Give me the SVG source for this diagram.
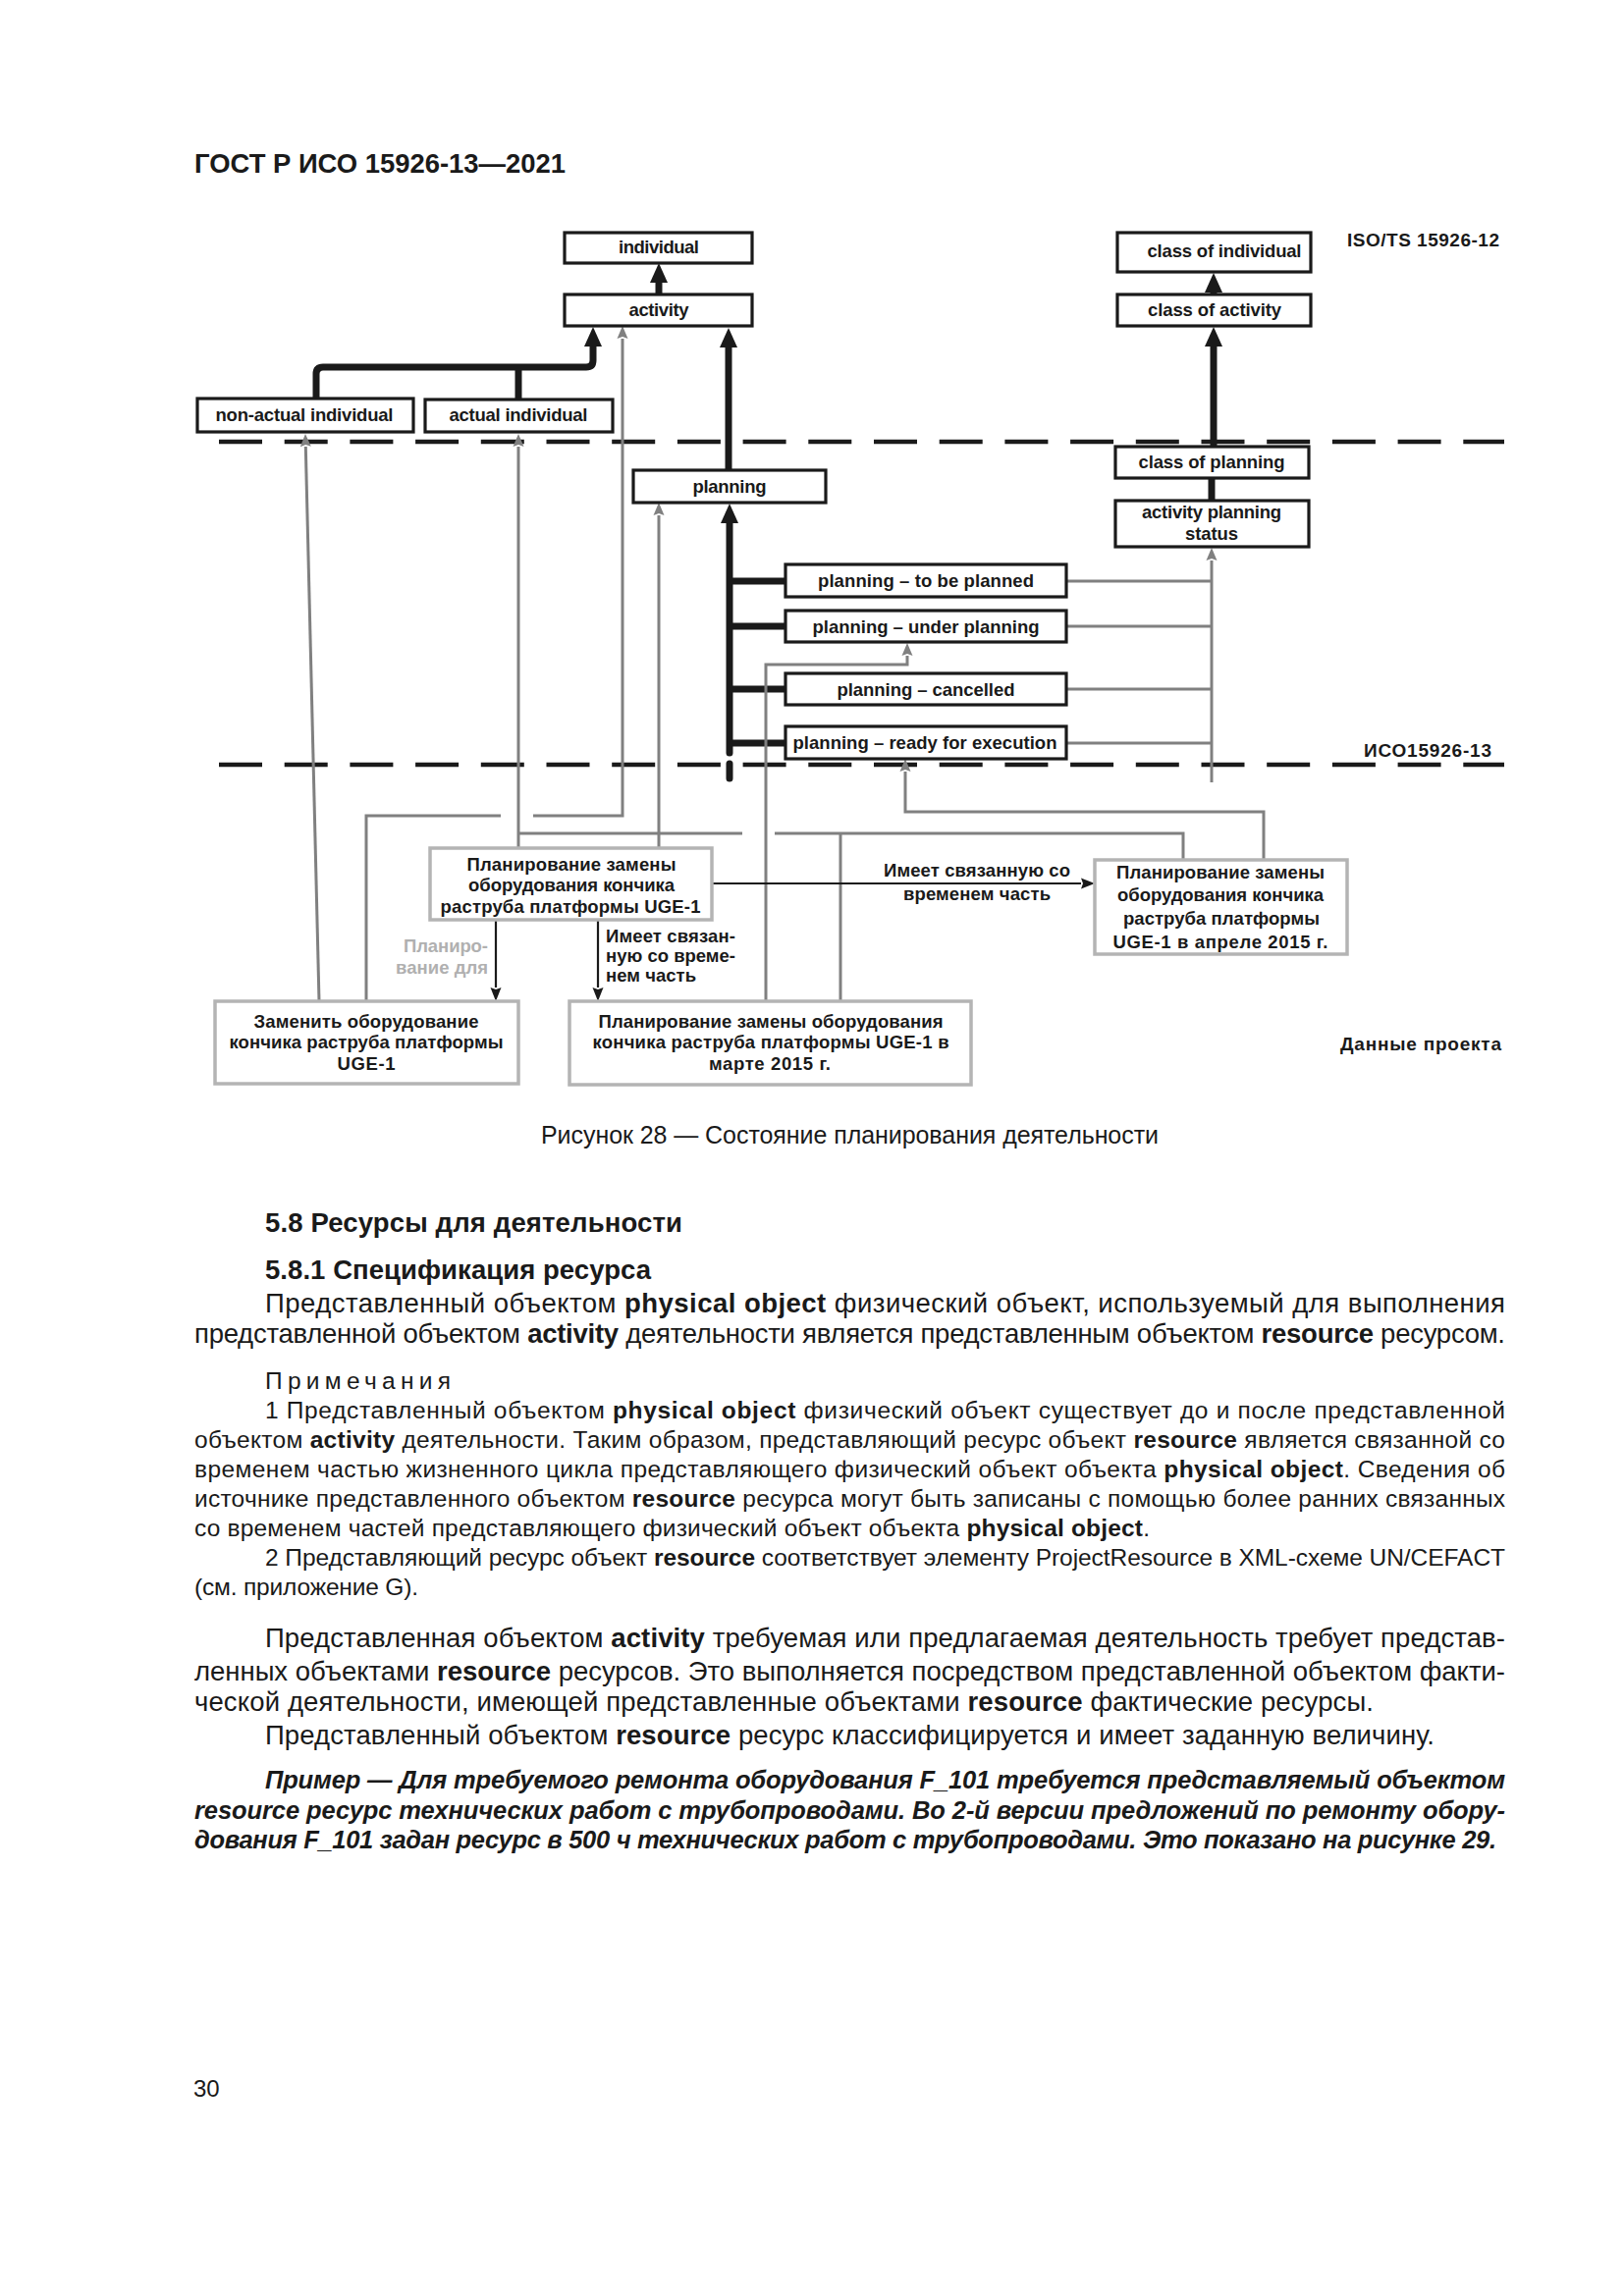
<svg xmlns="http://www.w3.org/2000/svg" width="1654" height="2339" viewBox="0 0 1654 2339">
<style>
text{font-family:"Liberation Sans",Arial,sans-serif;fill:#1a1a1a}
.d{font-size:18.5px;font-weight:bold;text-anchor:middle}
.lbl{font-size:19px;font-weight:bold}
.bx{fill:#fff;stroke:#1a1a1a;stroke-width:3.2}
.gb{fill:#fff;stroke:#b4b4b4;stroke-width:3.5}
.thick{fill:none;stroke:#1a1a1a;stroke-width:7}
.gray{fill:none;stroke:#808080;stroke-width:3}
.thin{fill:none;stroke:#1a1a1a;stroke-width:2.2}
.dash{fill:none;stroke:#1a1a1a;stroke-width:4.5;stroke-dasharray:44 22.7}
.body{font-size:27.5px}
.note{font-size:24.5px}
.b{font-weight:bold}
.ex{font-size:25.5px;font-weight:bold;font-style:italic}
</style>
<defs>
<marker id="ahT" markerUnits="userSpaceOnUse" markerWidth="24" markerHeight="24" viewBox="0 -12 24 24" refX="0" refY="0" orient="auto" overflow="visible"><path d="M0,-9 L20,0 L0,9 z" fill="#1a1a1a"/></marker>
<marker id="ahG" markerUnits="userSpaceOnUse" markerWidth="16" markerHeight="16" viewBox="0 -8 16 16" refX="0" refY="0" orient="auto" overflow="visible"><path d="M0,-5.5 L13,0 L0,5.5 L2,0 z" fill="#808080"/></marker>
<marker id="ahB" markerUnits="userSpaceOnUse" markerWidth="16" markerHeight="16" viewBox="0 -8 16 16" refX="0" refY="0" orient="auto" overflow="visible"><path d="M0,-5.5 L14,0 L0,5.5 L2,0 z" fill="#1a1a1a"/></marker>
</defs>
<rect width="1654" height="2339" fill="#fff"/>

<text x="198" y="176" font-size="27" font-weight="bold" textLength="378" lengthAdjust="spacingAndGlyphs">ГОСТ Р ИСО 15926-13—2021</text>

<g id="connectors">
<line class="dash" x1="223" y1="450" x2="1532" y2="450"/>
<line class="dash" x1="223" y1="779" x2="1532" y2="779"/>
<path class="thick" d="M671,300 V288" marker-end="url(#ahT)"/>
<path class="thick" d="M322,406 V381 Q322,374 329,374 H597 Q604,374 604,367 V353" marker-end="url(#ahT)"/>
<path class="thick" d="M528,407 V374"/>
<path class="thick" d="M742,479 V354" marker-end="url(#ahT)"/>
<path class="thick" d="M1236,455 V353" marker-end="url(#ahT)"/>
<path class="thick" d="M1236,300 V298" marker-end="url(#ahT)"/>
<path class="thick" d="M1234,487 V510"/>
<path class="thick" d="M743,767 V533" stroke-linecap="round" marker-end="url(#ahT)"/>
<path class="thick" d="M743,778 V793" stroke-linecap="round"/>
<path class="thick" stroke-width="8" d="M743,592 H800 M743,638 H800 M743,702 H800 M743,757 H800"/>
<path class="gray" d="M325,1020 L311.3,455" marker-end="url(#ahG)"/>
<path class="gray" d="M528,865 V455" marker-end="url(#ahG)"/>
<path class="gray" d="M1205,876 V849 H789 M756,849 H528"/>
<path class="gray" d="M856,1020 V849"/>
<path class="gray" d="M373,1020 V831 H510"/>
<path class="gray" d="M543,831 H634 V345" marker-end="url(#ahG)"/>
<path class="gray" d="M671,865 V525" marker-end="url(#ahG)"/>
<path class="gray" d="M780,1020 V677 H924 V668" marker-end="url(#ahG)"/>
<path class="gray" d="M1287,876 V827 H922 V786" marker-end="url(#ahG)"/>
<path class="gray" d="M1234,797 V571" marker-end="url(#ahG)"/>
<path class="gray" d="M1086,592 H1234 M1086,638 H1234 M1086,702 H1234 M1086,757 H1234"/>
<path class="thin" d="M725,900 H1101" marker-end="url(#ahB)"/>
<path class="thin" d="M505,937 V1006" marker-end="url(#ahB)"/>
<path class="thin" d="M609,937 V1006" marker-end="url(#ahB)"/>
<text class="d" x="995" y="893" textLength="190">Имеет связанную со</text>
<text class="d" x="995" y="917" textLength="150">временем часть</text>
<text class="d" x="497" y="970" style="text-anchor:end;fill:#b0b0b0" textLength="86">Планиро-</text>
<text class="d" x="497" y="992" style="text-anchor:end;fill:#b0b0b0" textLength="94">вание для</text>
<text class="d" x="617" y="960" style="text-anchor:start" textLength="132">Имеет связан-</text>
<text class="d" x="617" y="980" style="text-anchor:start" textLength="132">ную со време-</text>
<text class="d" x="617" y="1000" style="text-anchor:start" textLength="92">нем часть</text>
</g>

<g id="n-individual"><rect class="bx" x="575" y="237" width="191" height="31"/><text class="d" x="671" y="258" textLength="82">individual</text></g>
<g id="n-activity"><rect class="bx" x="575" y="300" width="191" height="32"/><text class="d" x="671" y="322" textLength="61">activity</text></g>
<g id="n-nonactual"><rect class="bx" x="201" y="406" width="220" height="34"/><text class="d" x="310" y="429" textLength="181">non-actual individual</text></g>
<g id="n-actual"><rect class="bx" x="433" y="407" width="191" height="33"/><text class="d" x="528" y="429" textLength="141">actual individual</text></g>
<g id="n-class-individual"><rect class="bx" x="1138" y="237" width="197" height="40"/><text class="d" x="1247" y="262" textLength="157">class of individual</text></g>
<g id="n-class-activity"><rect class="bx" x="1138" y="300" width="197" height="32"/><text class="d" x="1237" y="322" textLength="136">class of activity</text></g>
<g id="n-class-planning"><rect class="bx" x="1136" y="455" width="197" height="32"/><text class="d" x="1234" y="477" textLength="149">class of planning</text></g>
<g id="n-status"><rect class="bx" x="1136" y="510" width="197" height="47"/><text class="d" x="1234" y="528" textLength="142">activity planning</text><text class="d" x="1234" y="550" textLength="54">status</text></g>
<g id="n-planning"><rect class="bx" x="645" y="479" width="196" height="33"/><text class="d" x="743" y="502" textLength="75">planning</text></g>
<g id="n-tbp"><rect class="bx" x="800" y="575" width="286" height="33"/><text class="d" x="943" y="598" textLength="220">planning – to be planned</text></g>
<g id="n-under"><rect class="bx" x="800" y="622" width="286" height="32"/><text class="d" x="943" y="645" textLength="231">planning – under planning</text></g>
<g id="n-cancelled"><rect class="bx" x="800" y="686" width="286" height="32"/><text class="d" x="943" y="709" textLength="181">planning – cancelled</text></g>
<g id="n-ready"><rect class="bx" x="800" y="740" width="286" height="33"/><text class="d" x="942" y="763" textLength="269">planning – ready for execution</text></g>

<g id="n-plan-main"><rect class="gb" x="438" y="864" width="287" height="73"/>
<text class="d" x="582" y="887" textLength="213">Планирование замены</text>
<text class="d" x="582" y="908" textLength="210">оборудования кончика</text>
<text class="d" x="581" y="930" textLength="265">раструба платформы UGE-1</text></g>
<g id="n-replace"><rect class="gb" x="219" y="1020" width="309" height="84"/>
<text class="d" x="373" y="1047" textLength="229">Заменить оборудование</text>
<text class="d" x="373" y="1068" textLength="279">кончика раструба платформы</text>
<text class="d" x="373" y="1090" textLength="59">UGE-1</text></g>
<g id="n-march"><rect class="gb" x="580" y="1020" width="409" height="85"/>
<text class="d" x="785" y="1047" textLength="351">Планирование замены оборудования</text>
<text class="d" x="785" y="1068" textLength="363">кончика раструба платформы UGE-1 в</text>
<text class="d" x="784" y="1090" textLength="124">марте 2015 г.</text></g>
<g id="n-april"><rect class="gb" x="1115" y="876" width="257" height="96"/>
<text class="d" x="1243" y="895" textLength="212">Планирование замены</text>
<text class="d" x="1243" y="918" textLength="210">оборудования кончика</text>
<text class="d" x="1244" y="942" textLength="200">раструба платформы</text>
<text class="d" x="1243" y="966" textLength="219">UGE-1 в апреле 2015 г.</text></g>

<g id="layer-labels">
<text class="lbl" x="1372" y="251" textLength="155">ISO/TS 15926-12</text>
<text class="lbl" x="1389" y="771" textLength="130">ИСО15926-13</text>
<text class="lbl" x="1365" y="1070" textLength="164">Данные проекта</text>
</g>

<g id="page-text">
<text x="551" y="1165" font-size="25" textLength="629">Рисунок 28 — Состояние планирования деятельности</text>
<text class="body b" x="270" y="1255" textLength="425">5.8 Ресурсы для деятельности</text>
<text class="body b" x="270" y="1303" textLength="393">5.8.1 Спецификация ресурса</text>
<text class="body" x="270" y="1337" textLength="1263">Представленный объектом <tspan class="b">physical object</tspan> физический объект, используемый для выполнения</text>
<text class="body" x="198" y="1368" textLength="1335">представленной объектом <tspan class="b">activity</tspan> деятельности является представленным объектом <tspan class="b">resource</tspan> ресурсом.</text>
<text class="note" x="270" y="1415" letter-spacing="5" textLength="194">Примечания</text>
<text class="note" x="270" y="1445" textLength="1263">1 Представленный объектом <tspan class="b">physical object</tspan> физический объект существует до и после представленной</text>
<text class="note" x="198" y="1475" textLength="1335">объектом <tspan class="b">activity</tspan> деятельности. Таким образом, представляющий ресурс объект <tspan class="b">resource</tspan> является связанной со</text>
<text class="note" x="198" y="1505" textLength="1335">временем частью жизненного цикла представляющего физический объект объекта <tspan class="b">physical object</tspan>. Сведения об</text>
<text class="note" x="198" y="1535" textLength="1335">источнике представленного объектом <tspan class="b">resource</tspan> ресурса могут быть записаны с помощью более ранних связанных</text>
<text class="note" x="198" y="1565" textLength="973">со временем частей представляющего физический объект объекта <tspan class="b">physical object</tspan>.</text>
<text class="note" x="270" y="1595" textLength="1263">2 Представляющий ресурс объект <tspan class="b">resource</tspan> соответствует элементу ProjectResource в XML-схеме UN/CEFACT</text>
<text class="note" x="198" y="1625" textLength="228">(см. приложение G).</text>
<text class="body" x="270" y="1678" textLength="1263">Представленная объектом <tspan class="b">activity</tspan> требуемая или предлагаемая деятельность требует представ-</text>
<text class="body" x="198" y="1712" textLength="1335">ленных объектами <tspan class="b">resource</tspan> ресурсов. Это выполняется посредством представленной объектом факти-</text>
<text class="body" x="198" y="1743" textLength="1201">ческой деятельности, имеющей представленные объектами <tspan class="b">resource</tspan> фактические ресурсы.</text>
<text class="body" x="270" y="1777" textLength="1191">Представленный объектом <tspan class="b">resource</tspan> ресурс классифицируется и имеет заданную величину.</text>
<text class="ex" x="270" y="1822" textLength="1263">Пример — Для требуемого ремонта оборудования F_101 требуется представляемый объектом</text>
<text class="ex" x="198" y="1853" textLength="1335">resource ресурс технических работ с трубопроводами. Во 2-й версии предложений по ремонту обору-</text>
<text class="ex" x="198" y="1883" textLength="1326">дования F_101 задан ресурс в 500 ч технических работ с трубопроводами. Это показано на рисунке 29.</text>
<text x="197" y="2136" font-size="24">30</text>
</g>
</svg>
